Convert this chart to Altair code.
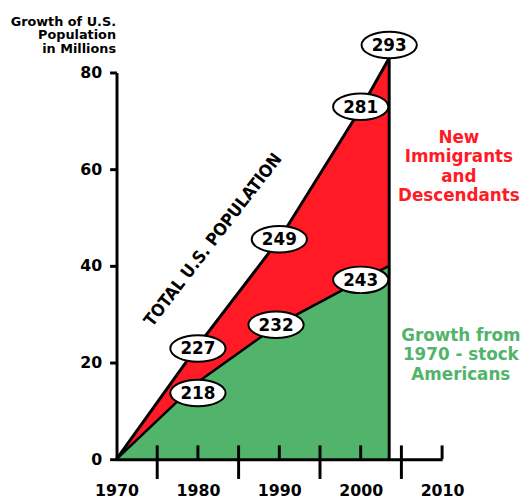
import altair as alt
import pandas as pd

# ---- data ----
years = [1970, 1980, 1990, 2000, 2003.5]
total_growth = [0, 23.5, 45.5, 72.5, 83.0]      # total U.S. population growth (millions)
stock_growth = [0, 16.0, 28.0, 37.0, 40.0]      # growth from 1970-stock Americans

label_years = [1980, 1990, 2000, 2003.5, 1980, 1989.6, 2000]
label_values = [22.9, 45.5, 72.9, 85.7, 13.7, 27.8, 37.1]
label_texts = ["227", "249", "281", "293", "218", "232", "243"]

x_label_years = [1970, 1980, 1990, 2000, 2010]
long_tick_years = [1975, 1985, 1995, 2005]
short_tick_years = [1980, 1990, 2000, 2010]
y_ticks = [0, 20, 40, 60, 80]

RED = "#ff1a25"
GREEN = "#52b46a"
FONT = "DejaVu Sans"

df = pd.DataFrame({"year": years, "total": total_growth, "stock": stock_growth})
last = df.tail(1)
labels = pd.DataFrame({"year": label_years, "value": label_values, "text": label_texts})
long_ticks = pd.DataFrame({"year": long_tick_years})
short_ticks = pd.DataFrame({"year": short_tick_years})

xscale = alt.Scale(domain=[1970, 2010], nice=False, zero=False)
yscale = alt.Scale(domain=[0, 80], nice=False)

xaxis = alt.Axis(values=x_label_years, format="d", title=None, ticks=False,
                 labelFlush=False, labelPadding=24, labelFont=FONT,
                 labelFontWeight="bold", labelFontSize=16, labelColor="black",
                 domainColor="black", domainWidth=3, grid=False, zindex=2)
yaxis = alt.Axis(values=y_ticks, format="d",
                 title=["Growth of U.S.", "Population", "in Millions"],
                 titleAngle=0, titleAlign="right", titleBaseline="top",
                 titleX=-1, titleY=-58, titleFont=FONT, titleFontSize=13,
                 titleFontWeight="bold", titleLineHeight=14, titleColor="black",
                 labelFlush=False, labelPadding=8, labelFont=FONT,
                 labelFontWeight="bold", labelFontSize=16, labelColor="black",
                 tickSize=7, tickWidth=3, tickColor="black",
                 domainColor="black", domainWidth=3, grid=False, zindex=2)


def X(field="year"):
    return alt.X(f"{field}:Q", scale=xscale, axis=xaxis)


def Y(field):
    return alt.Y(f"{field}:Q", scale=yscale, axis=yaxis)


base = alt.Chart(df)

red_area = base.mark_area(color=RED, opacity=1).encode(x=X(), y=Y("total"))
green_area = base.mark_area(color=GREEN, opacity=1).encode(x=X(), y=Y("stock"))
total_line = base.mark_line(color="black", strokeWidth=3).encode(x=X(), y=Y("total"))
stock_line = base.mark_line(color="black", strokeWidth=2.5).encode(x=X(), y=Y("stock"))
edge = alt.Chart(last).mark_rule(color="black", strokeWidth=3).encode(
    x=X(), y=alt.Y("total:Q", scale=yscale, axis=yaxis), y2=alt.datum(0))

long_tick_rules = alt.Chart(long_ticks).mark_rule(color="black", strokeWidth=3).encode(
    x=X(), y=alt.value(378), y2=alt.value(412))
short_tick_rules = alt.Chart(short_ticks).mark_rule(color="black", strokeWidth=3).encode(
    x=X(), y=alt.value(378), y2=alt.value(392))

ellipse_path = "M -1 0 A 1 0.48 0 1 1 1 0 A 1 0.48 0 1 1 -1 0 Z"
ellipses = alt.Chart(labels).mark_point(
    shape=ellipse_path, size=3136, filled=True, fill="white", stroke="black",
    strokeWidth=2, opacity=1).encode(x=X(), y=Y("value"))
ellipse_text = alt.Chart(labels).mark_text(
    font=FONT, fontWeight="bold", fontSize=17, color="black", baseline="middle", dy=1
).encode(x=X(), y=Y("value"), text="text:N")

total_title = alt.Chart(pd.DataFrame({"year": [1981.9], "value": [45.3]})).mark_text(
    text="TOTAL U.S. POPULATION", font="DejaVu Sans Condensed, DejaVu Sans",
    fontWeight="bold", fontSize=17.5, angle=307.7, align="center", baseline="middle",
    color="black"
).encode(x=X(), y=Y("value"))

red_note = alt.Chart(pd.DataFrame({"a": [0]})).mark_text(
    text=["New", "Immigrants", "and", "Descendants"], font=FONT, fontWeight="bold",
    fontSize=17, lineHeight=19.5, align="center", baseline="alphabetic", color=RED
).encode(x=alt.value(347), y=alt.value(71.7))

green_note = alt.Chart(pd.DataFrame({"a": [0]})).mark_text(
    text=["Growth from", "1970 - stock", "Americans"], font=FONT, fontWeight="bold",
    fontSize=17, lineHeight=20, align="center", baseline="alphabetic", color=GREEN
).encode(x=alt.value(349), y=alt.value(271.7))

chart = alt.layer(
    red_area, green_area, total_line, stock_line, edge,
    long_tick_rules, short_tick_rules, ellipses, ellipse_text,
    total_title, red_note, green_note
).properties(
    width=330, height=392,
    padding={"left": 110, "top": 62, "right": 81, "bottom": 40},
    autosize=alt.AutoSizeParams(type="none"),
    background="white"
).configure_view(stroke=None)

chart.save("out.html", embed_options={"renderer": "svg", "actions": False})
